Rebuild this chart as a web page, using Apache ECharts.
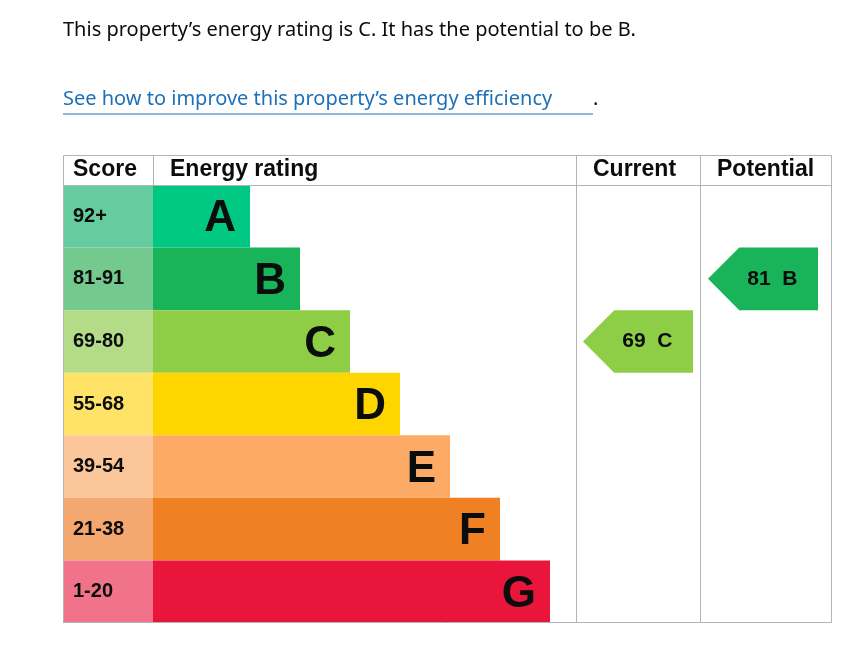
<!DOCTYPE html>
<html><head><meta charset="utf-8">
<script src="https://cdn.jsdelivr.net/npm/echarts@6/dist/echarts.min.js"></script>
<style>html,body{margin:0;padding:0;background:#fff}#c{width:857px;height:650px}</style>
</head><body><div id="c"></div>
<script>
const bands = ['A','B','C','D','E','F','G'];
const scoreRanges = ['92+','81-91','69-80','55-68','39-54','21-38','1-20'];
const barLengths = [97,147,197,247,297,347,397];
const bandColors = ['#00c781','#19b459','#8dce46','#ffd500','#fcaa65','#ef8023','#e9153b'];
const scoreColors = ['#66cc9f','#74c98f','#b3db88','#ffe366','#fcc69b','#f4a86f','#f07389'];
const currentRating = {score:69, band:'C'};
const potentialRating = {score:81, band:'B'};

const chart = echarts.init(document.getElementById('c'), null, {renderer:'canvas'});
const FONT = 'Liberation Sans, Arial, sans-serif';
const SCORE_W = 90;

function arrow(rating, x0, x1){
  return function(params, api){
    const idx = bands.indexOf(rating.band);
    const pL = api.coord([x0, idx]);
    const pR = api.coord([x1, idx]);
    const h = api.size([0,1])[1];
    const top = pL[1]-h/2, bot = pL[1]+h/2;
    const tip = h/2;
    return {type:'group', children:[
      {type:'polygon', shape:{points:[[pL[0],pL[1]],[pL[0]+tip,top],[pR[0],top],[pR[0],bot],[pL[0]+tip,bot]]},
       style:{fill:bandColors[idx]}},
      {type:'text', style:{text:rating.score+'  '+rating.band, x:(pL[0]+tip*0.6+pR[0])/2, y:pL[1],
        align:'center', verticalAlign:'middle', fontFamily:FONT, fontWeight:'bold', fontSize:21, fill:'#0b0c0c'}}
    ]};
  };
}

const gray = '#b1b4b6';
chart.setOption({
  animation:false,
  grid:{left:63, right:26, top:185, bottom:27},
  xAxis:{type:'value', min:0, max:768, show:false},
  yAxis:{type:'category', data:bands, inverse:true, show:false},
  graphic:[
    {type:'text', left:63, top:20, style:{text:'This property\u2019s energy rating is C. It has the potential to be B.', fontFamily:'Noto Sans, sans-serif', fontSize:20, fill:'#0b0c0c'}},
    {type:'text', left:63, top:89, style:{text:'See how to improve this property\u2019s energy efficiency', fontFamily:'Noto Sans, sans-serif', fontSize:20, fill:'#1d70b8'}},
    {type:'text', left:593, top:89, style:{text:'.', fontFamily:'Noto Sans, sans-serif', fontSize:20, fill:'#0b0c0c'}},
    {type:'line', shape:{x1:63,y1:114,x2:593,y2:114}, style:{stroke:'#1d70b8', lineWidth:1}},
    {type:'rect', shape:{x:63.5,y:155.5,width:768,height:467}, style:{fill:'none', stroke:gray, lineWidth:1}, z:10},
    {type:'line', shape:{x1:63,y1:185.5,x2:831,y2:185.5}, style:{stroke:gray}, z:10},
    {type:'line', shape:{x1:153.5,y1:155,x2:153.5,y2:185}, style:{stroke:gray}, z:10},
    {type:'line', shape:{x1:576.5,y1:155,x2:576.5,y2:623}, style:{stroke:gray}, z:10},
    {type:'line', shape:{x1:700.5,y1:155,x2:700.5,y2:623}, style:{stroke:gray}, z:10},
    {type:'text', left:73, top:158, style:{text:'Score', fontFamily:FONT, fontWeight:'bold', fontSize:23, fill:'#0b0c0c'}},
    {type:'text', left:170, top:158, style:{text:'Energy rating', fontFamily:FONT, fontWeight:'bold', fontSize:23, fill:'#0b0c0c'}},
    {type:'text', left:593, top:158, style:{text:'Current', fontFamily:FONT, fontWeight:'bold', fontSize:23, fill:'#0b0c0c'}},
    {type:'text', left:717, top:158, style:{text:'Potential', fontFamily:FONT, fontWeight:'bold', fontSize:23, fill:'#0b0c0c'}}
  ],
  series:[
    {type:'bar', stack:'s', barCategoryGap:'0%', barWidth:'100%',
     data:scoreRanges.map((s,i)=>({value:SCORE_W, itemStyle:{color:scoreColors[i]}})),
     label:{show:true, position:'insideLeft', offset:[0,0], distance:10, formatter:p=>scoreRanges[p.dataIndex],
       fontFamily:FONT, fontWeight:'bold', fontSize:20, color:'#0b0c0c'}},
    {type:'bar', stack:'s', barCategoryGap:'0%', barWidth:'100%',
     data:barLengths.map((v,i)=>({value:v, itemStyle:{color:bandColors[i]}})),
     label:{show:true, position:'insideRight', distance:14, formatter:p=>bands[p.dataIndex],
       fontFamily:FONT, fontWeight:'bold', fontSize:44, color:'#0b0c0c', offset:[0,3]}},
    {type:'custom', data:[0], renderItem:arrow(currentRating, 520, 630), z:5},
    {type:'custom', data:[0], renderItem:arrow(potentialRating, 645, 755), z:5}
  ]
});
</script></body></html>
